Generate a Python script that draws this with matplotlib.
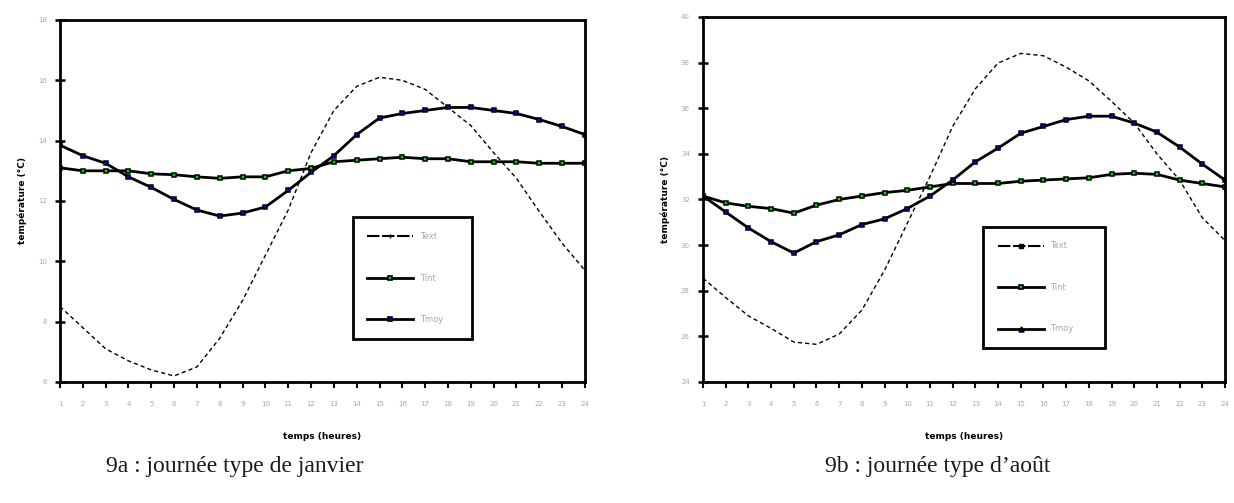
import matplotlib
matplotlib.use("Agg")
import matplotlib.pyplot as plt

hours = list(range(1, 25))
hour_labels = [str(h) for h in hours]

# January typical day
jan_text = [8.5, 7.8, 7.1, 6.7, 6.4, 6.2, 6.5, 7.45, 8.7, 10.2, 11.7, 13.6,
            15.0, 15.8, 16.1, 16.0, 15.7, 15.1, 14.5, 13.6, 12.75, 11.65, 10.6, 9.7]
jan_tint = [13.1, 13.0, 13.0, 13.0, 12.9, 12.87, 12.8, 12.75, 12.8, 12.8, 13.0, 13.08,
            13.3, 13.35, 13.4, 13.45, 13.4, 13.4, 13.3, 13.3, 13.3, 13.25, 13.25, 13.25]
jan_tmoy = [13.85, 13.5, 13.25, 12.8, 12.45, 12.05, 11.7, 11.5, 11.6, 11.8, 12.35, 12.95,
            13.5, 14.2, 14.75, 14.9, 15.0, 15.1, 15.1, 15.0, 14.9, 14.7, 14.47, 14.2]
jan_yticks = [6, 8, 10, 12, 14, 16, 18]

# August typical day
aug_text = [28.55, 27.7, 26.9, 26.35, 25.75, 25.65, 26.1, 27.15, 28.9, 30.95, 33.0, 35.2,
            36.85, 37.98, 38.4, 38.3, 37.8, 37.2, 36.3, 35.35, 34.0, 32.85, 31.2, 30.2]
aug_tint = [32.15, 31.85, 31.7, 31.6, 31.4, 31.75, 32.0, 32.15, 32.3, 32.4, 32.55, 32.7,
            32.7, 32.7, 32.8, 32.85, 32.9, 32.95, 33.1, 33.15, 33.1, 32.85, 32.7, 32.55]
aug_tmoy = [32.15, 31.45, 30.75, 30.15, 29.65, 30.15, 30.45, 30.9, 31.15, 31.6, 32.15, 32.85,
            33.65, 34.25, 34.9, 35.2, 35.5, 35.65, 35.65, 35.35, 34.95, 34.3, 33.55, 32.85]
aug_yticks = [24, 26, 28, 30, 32, 34, 36, 38, 40]

series_names = ["Text", "Tint", "Tmoy"]

GREY = "#a8a8a8"

fig = plt.figure(figsize=(12.34, 5.03), dpi=100)
fig.patch.set_facecolor("white")


def draw_panel(rect, text, tint, tmoy, yticks, caption, caption_x, legend_box,
               text_marker, moy_marker):
    ax = fig.add_axes(rect)
    ax.plot(hours, text, color="black", lw=1.0, ls=(0, (3, 2.2)),
            label=series_names[0])
    ax.plot(hours, tint, color="black", lw=2.0, marker="s", ms=3.4,
            mfc="#00e000", mec="black", mew=1.1, label=series_names[1])
    ax.plot(hours, tmoy, color="black", lw=2.0, marker="s", ms=3.4,
            mfc="#0000ff", mec="black", mew=1.1, label=series_names[2])

    ax.set_xlim(1, 24)
    ax.set_ylim(yticks[0], yticks[-1])
    ax.set_xticks(hours)
    ax.set_xticklabels(hour_labels)
    ax.set_yticks(yticks)
    for s in ax.spines.values():
        s.set_linewidth(2.0)
        s.set_color("black")
    ax.tick_params(axis="x", direction="out", length=4, width=1.5,
                   labelsize=5, labelcolor=GREY, pad=10)
    ax.tick_params(axis="y", direction="inout", length=7, width=1.8,
                   labelsize=5, labelcolor=GREY, pad=6)
    ax.set_xlabel("temps (heures)", fontsize=6.5, fontweight="bold", labelpad=18)
    ax.set_ylabel("température (°C)", fontsize=6.5, fontweight="bold", labelpad=8)

    # legend handles with a single marker in the middle of each sample
    h_text, = ax.plot([], [], color="black", lw=1.5, ls=(0, (6, 1.2)),
                      marker=text_marker, ms=3.5)
    h_tint, = ax.plot([], [], color="black", lw=2.0, marker="s", ms=3.5,
                      mfc="#00e000", mec="black", mew=1.2)
    h_tmoy, = ax.plot([], [], color="black", lw=2.0, marker=moy_marker, ms=3.5,
                      mfc="#0000ff", mec="black", mew=1.2)
    x0, y0, w, h = legend_box
    leg = ax.legend([h_text, h_tint, h_tmoy], series_names, loc="center left",
                    bbox_to_anchor=(x0, y0, w, h), mode="expand",
                    fontsize=6, labelcolor=GREY, frameon=True, fancybox=False,
                    framealpha=1.0, edgecolor="black", handlelength=5.5,
                    labelspacing=3.9, borderpad=1.75, numpoints=1)
    leg.get_frame().set_linewidth(2.0)

    fig.text(caption_x, 0.072, caption, family="Liberation Serif",
             fontsize=17, ha="center", va="center", color="#1a1a1a")
    return ax


draw_panel([0.0486, 0.2406, 0.4254, 0.7197], jan_text, jan_tint, jan_tmoy,
           jan_yticks, "9a : journée type de janvier", 0.190,
           (0.550, 0.113, 0.242, 0.348), "|", "s")
draw_panel([0.5697, 0.2406, 0.4230, 0.7257], aug_text, aug_tint, aug_tmoy,
           aug_yticks, "9b : journée type d’août", 0.760,
           (0.529, 0.088, 0.249, 0.342), "s", "^")

fig.savefig("out.png", dpi=100, facecolor="white")
